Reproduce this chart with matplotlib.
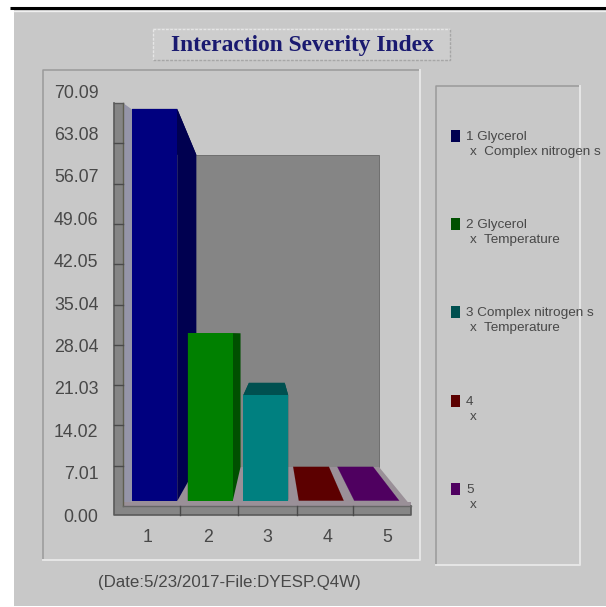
"""Interaction severity index: pseudo-3D bar chart with a side legend."""
import matplotlib

matplotlib.use("Agg")
import matplotlib.pyplot as plt
from matplotlib.patches import Polygon, Rectangle

W, H = 606, 607
SANS = "Liberation Sans"

categories = [1, 2, 3, 4, 5]
severity = [68.2, 29.2, 18.4, 0.05, 0.05]
y_ticks = [0.00, 7.01, 14.02, 21.03, 28.04, 35.04, 42.05, 49.06, 56.07, 63.08, 70.09]
face_colors = ["#00007f", "#008000", "#008080", "#5c0000", "#4f0060"]
dark_colors = ["#000050", "#005000", "#005050", "#5c0000", "#4f0060"]
legend_first = ["1 Glycerol", "2 Glycerol", "3 Complex nitrogen s", "4", "5"]
legend_second = ["x  Complex nitrogen s", "x  Temperature", "x  Temperature", "x", "x"]
legend_y = [136, 224, 312, 401, 489]

PANEL = "#c8c8c8"
DARK_EDGE = "#9a9a9a"
LIGHT_EDGE = "#e6e6e6"
TEXT = "#484848"


def px_axes(fig, left, top, right, bottom, **kw):
    """Axes placed by its pixel box, measured from the top left corner."""
    return fig.add_axes(
        [left / W, 1 - bottom / H, (right - left) / W, (bottom - top) / H], **kw
    )


fig = plt.figure(figsize=(W / 100, H / 100), dpi=100, facecolor="white")

# chrome drawn in pixel coordinates
bg = fig.add_axes([0, 0, 1, 1])
bg.set_xlim(0, W)
bg.set_ylim(H, 0)
bg.axis("off")


def rect(x0, y0, x1, y1, color, z=1, **kw):
    bg.add_patch(Rectangle((x0, y0), x1 - x0, y1 - y0, facecolor=color, edgecolor="none", zorder=z, **kw))


def poly(points, color, z=2, edge="none", lw=0.6):
    bg.add_patch(Polygon(points, closed=True, facecolor=color, edgecolor=edge, linewidth=lw, zorder=z))


rect(14, 10, W, H - 1, PANEL)
bg.plot([10, W], [8, 8], color="black", lw=2.2, zorder=3, solid_capstyle="butt")
bg.plot([14, W], [11, 11], color="#f0f0f0", lw=1.0, zorder=3)

# title box
rect(153, 28, 450, 60, "#cdcdcd")
bg.plot([153, 450], [29, 29], color=LIGHT_EDGE, lw=1, ls=(0, (2, 1)), zorder=3)
bg.plot([153, 153], [29, 60], color=LIGHT_EDGE, lw=1, ls=(0, (2, 1)), zorder=3)
bg.plot([153, 450, 450], [60, 60, 29], color="#a6a6a6", lw=1, ls=(0, (2, 1)), zorder=3)
bg.text(302, 45, "Interaction Severity Index", family="Liberation Serif", weight="bold",
        fontsize=16.9, color="#1a1a70", ha="center", va="center", zorder=4)

# plot and legend frames
bg.plot([43, 43, 420], [560, 70, 70], color=DARK_EDGE, lw=1.1, zorder=3)
bg.plot([420, 420, 43], [70, 560, 560], color=LIGHT_EDGE, lw=1.4, zorder=3)
bg.plot([436, 436, 580], [565, 86, 86], color=DARK_EDGE, lw=1.1, zorder=3)
bg.plot([580, 580, 436], [86, 565, 565], color=LIGHT_EDGE, lw=1.4, zorder=3)

# back wall, floor and side wall
poly([(195, 155), (379, 155), (379, 467), (195, 467)], "#858585", edge="#666666")
poly([(123, 506), (411, 506), (379, 467), (195, 467)], "#9a9098")
poly([(123, 103), (195, 155), (195, 467), (123, 506)], "#9595a8")
rect(114, 103, 123, 515, "#858585", z=2)
rect(114, 506, 411, 515, "#868686", z=2)
rect(123, 502, 411, 506, "#9a9098", z=2)
bg.plot([123, 123], [103, 506], color="#5f5f50", lw=1.0, zorder=3)
bg.plot([114, 114, 411, 411], [103, 515, 515, 506], color="#5a5a5a", lw=1.2, zorder=3)
bg.plot([123, 411], [506, 506], color="#666666", lw=1.0, zorder=3)
bg.plot([114, 123], [103, 103], color="#5a5a5a", lw=1.0, zorder=3)
for value in y_ticks[1:-1]:
    tick_y = 506 - value * 40.3 / 7.01
    bg.plot([114, 123], [tick_y, tick_y], color="#4a4a4a", lw=1.0, zorder=3)
for tick_x in (180, 238, 297, 353):
    bg.plot([tick_x, tick_x], [506, 515], color="#4a4a4a", lw=1.0, zorder=3)

# tick labels come from a transparent axes spanning the value range
scale = px_axes(fig, 118, 91, 417, 515, facecolor="none")
scale.set_xlim(0.5, 5.5)
scale.set_ylim(y_ticks[0], y_ticks[-1])
scale.set_xticks(categories)
scale.set_yticks(y_ticks)
scale.set_yticklabels([f"{v:.2f}" for v in y_ticks])
scale.tick_params(axis="both", length=0, labelsize=12.8, labelcolor=TEXT)
scale.tick_params(axis="y", pad=14)
scale.tick_params(axis="x", pad=10)
for label in scale.get_xticklabels() + scale.get_yticklabels():
    label.set_family(SANS)
for spine in scale.spines.values():
    spine.set_visible(False)

# bars: the axes box is the front plane, depth recedes toward a vanishing point
ax = px_axes(fig, 127, 98, 404.5, 501, facecolor="none")
ax.set_xlim(0.5, 5.5)
ax.set_ylim(0, 70.09)
ax.axis("off")

BAR_W = 0.81
DEPTH = 0.796
vx = 0.5 + (271 - 127) / 277.5 * 5
vy = (501 - 334) / 403 * 70.09


def back(x, y):
    return vx + (x - vx) * DEPTH, vy + (y - vy) * DEPTH


for cat, value, face, dark in zip(categories, severity, face_colors, dark_colors):
    x0, x1 = cat - BAR_W / 2, cat + BAR_W / 2
    for side_x in (x0, x1):
        ax.add_patch(Polygon([(side_x, 0), (side_x, value), back(side_x, value), back(side_x, 0)],
                             facecolor=dark, edgecolor="none", clip_on=False))
    ax.add_patch(Polygon([(x0, value), (x1, value), back(x1, value), back(x0, value)],
                         facecolor=dark, edgecolor="none", clip_on=False))
    ax.add_patch(Polygon([(x0, 0), (x1, 0), (x1, value), (x0, value)],
                         facecolor=face, edgecolor="none", clip_on=False))

# legend entries
for color, first, second, y in zip(dark_colors, legend_first, legend_second, legend_y):
    rect(451, y - 6, 460, y + 6, color, z=4)
    bg.text(466, y + 1, first, family=SANS, fontsize=9.7, color=TEXT, va="center", zorder=4)
    bg.text(470, y + 16, second, family=SANS, fontsize=9.7, color=TEXT, va="center", zorder=4)

bg.text(229, 582, "(Date:5/23/2017-File:DYESP.Q4W)", family=SANS, fontsize=12.2,
        color=TEXT, ha="center", va="center", zorder=4)

fig.savefig("out.png", dpi=100)
